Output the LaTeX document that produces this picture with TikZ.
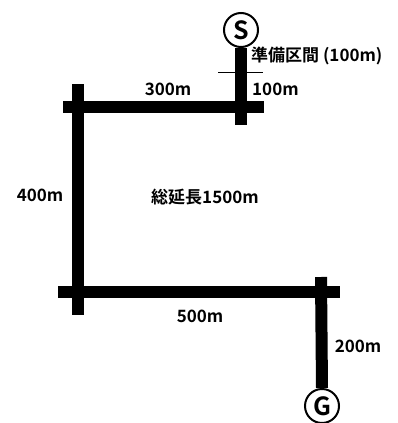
\documentclass[tikz,border=0pt]{standalone}
\usepackage{fontspec}
\setmainfont{Noto Sans CJK JP}[BoldFont=Noto Sans CJK JP Bold]
\begin{document}
\begin{tikzpicture}[x=1pt,y=-1pt,
  track/.style={line width=12pt},
  lbl/.style={font=\fontsize{17}{17}\selectfont\bfseries, inner sep=0pt},
  endmark/.style={circle, draw, line width=2pt, minimum size=34pt, inner sep=0pt, fill=white, font=\fontsize{25}{25}\selectfont\bfseries}]
\useasboundingbox (0,0) rectangle (397,423);
\node[endmark] (S) at (241,30) {S};
\node[endmark] (G) at (322,406) {G};
\coordinate (s1) at (241,125);
\coordinate (t1) at (63,107);  \coordinate (t2) at (264,107);
\coordinate (l1) at (78,84);   \coordinate (l2) at (78,315);
\coordinate (b1) at (58,292);  \coordinate (b2) at (340,292);
\coordinate (r1) at (321,277);
\coordinate (k1) at (218,72);  \coordinate (k2) at (263,72);
\draw[track] (S.south) -- (s1);
\draw[track] (t1) -- (t2);
\draw[track] (l1) -- (l2);
\draw[track] (b1) -- (b2);
\draw[track] (r1) -- (G.north);
\draw[line width=1pt] (k1) -- (k2);
\node[lbl, anchor=west] (n1) at (251,56) {準備区間 (100m)};
\node[lbl, anchor=west] (n2) at (252,89) {100m};
\node[lbl] (n3) at (168,89) {300m};
\node[lbl] (n4) at (40,195) {400m};
\node[lbl] (n5) at (205,197) {総延長1500m};
\node[lbl] (n6) at (200,316) {500m};
\node[lbl] (n7) at (358,346) {200m};
\end{tikzpicture}
\end{document}
